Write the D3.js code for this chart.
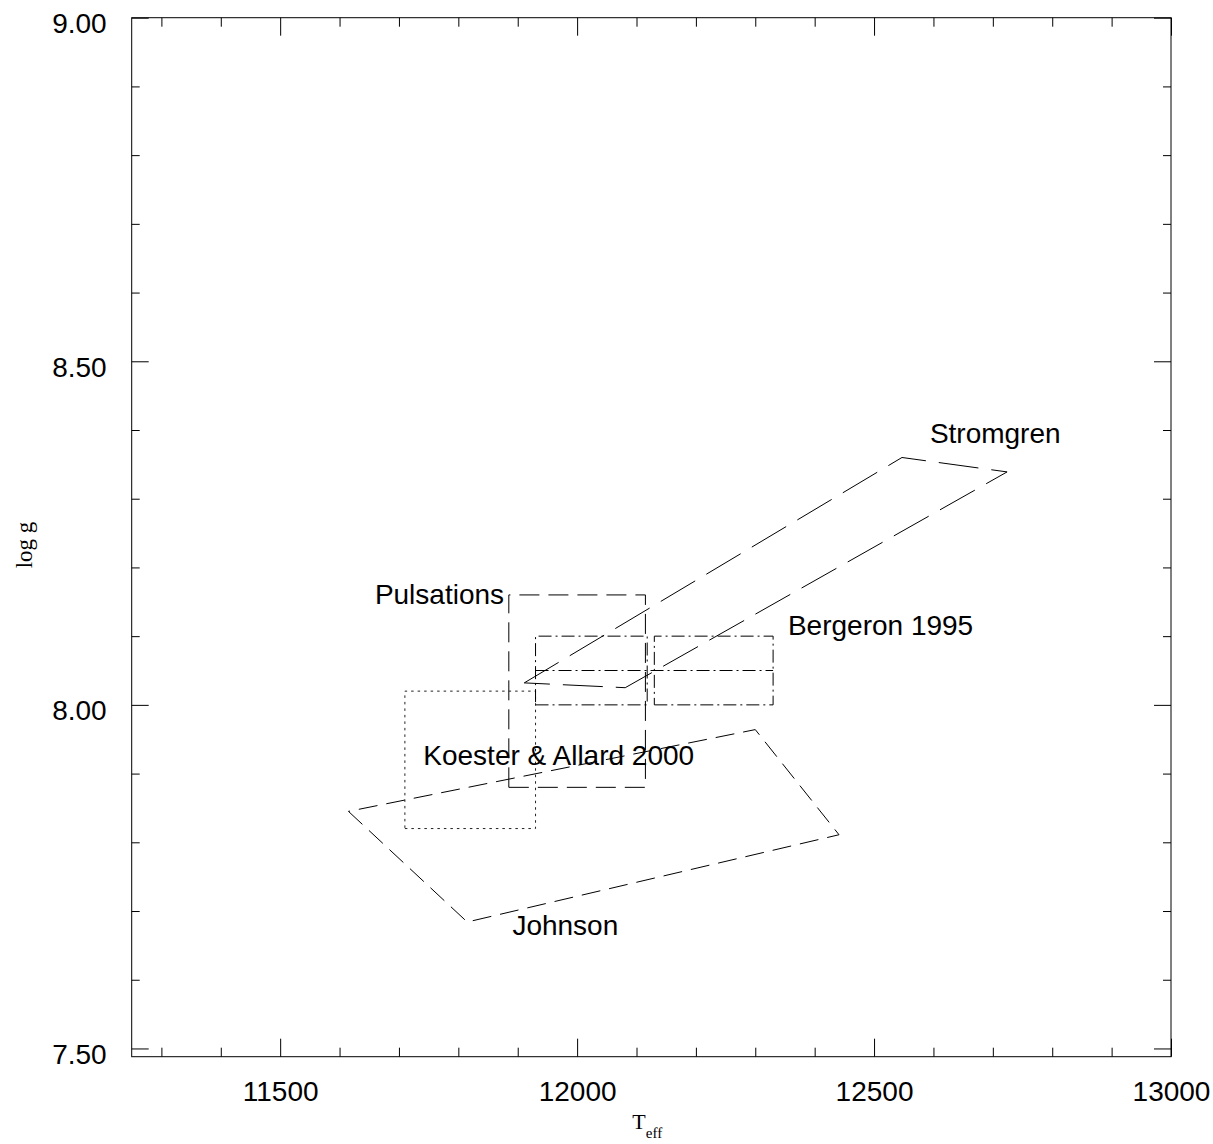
<!DOCTYPE html>
<html>
<head>
<meta charset="utf-8">
<script src="https://cdn.jsdelivr.net/npm/d3@7"></script>
<style>
  html, body { margin: 0; padding: 0; background: #fff; }
  svg { display: block; }
</style>
</head>
<body>
<svg id="chart" width="1213" height="1144"></svg>
<script>
// ---------------- data ----------------
const xMajorTicks = [11500, 12000, 12500, 13000];
const xMinorTicks = [11300, 11400, 11600, 11700, 11800, 11900, 12100, 12200, 12300, 12400, 12600, 12700, 12800, 12900];
const yMajorTicks = [7.5, 8.0, 8.5, 9.0];
const yMinorTicks = [7.6, 7.7, 7.8, 7.9, 8.1, 8.2, 8.3, 8.4, 8.6, 8.7, 8.8, 8.9];

// Stromgren polygon (Teff, log g)
const stromgrenT = [11911, 12547, 12724, 12081];
const stromgrenG = [8.032, 8.360, 8.339, 8.025];

// Johnson polygon
const johnsonT = [11615, 11815, 12441, 12300];
const johnsonG = [7.845, 7.684, 7.811, 7.964];

// Pulsations box
const pulsT = [11885, 12115];
const pulsG = [7.88, 8.16];

// Koester & Allard 2000 box
const koesterT = [11710, 11930];
const koesterG = [7.82, 8.02];

// Bergeron 1995 boxes
const bergT1 = [11930, 12118];
const bergT2 = [12130, 12330];
const bergG = [8.00, 8.05, 8.10];

// labels
const labelText = ["Pulsations", "Koester & Allard 2000", "Johnson", "Stromgren", "Bergeron 1995"];
const labelT = [11877, 11741, 11891, 12594, 12355];
const labelG = [8.147, 7.913, 7.665, 8.381, 8.102];
const labelAnchor = ["end", "start", "start", "start", "start"];

// ---------------- chart ----------------
const L = 131.7, R = 1171, T = 17.7, B = 1056.7;
const x = d3.scaleLinear().domain([11250, 13000]).range([L, R]);
const y = d3.scaleLinear().domain([7.488, 9.0]).range([B, T]);

const svg = d3.select("#chart");
const sans = "'Liberation Sans', Arial, Helvetica, sans-serif";
const serif = "'Liberation Serif', 'Times New Roman', serif";

function styleAxis(g) {
  g.select(".domain").remove();
  g.selectAll(".tick line").attr("stroke", "#000").attr("stroke-width", 1);
  g.selectAll("text").attr("font-family", sans).attr("font-size", 28).attr("fill", "#000");
}

// bottom axis with labels
svg.append("g").attr("transform", `translate(0,${B})`)
  .call(d3.axisBottom(x).tickValues(xMajorTicks).tickSizeInner(-18).tickSizeOuter(0).tickPadding(24).tickFormat(d3.format("d")))
  .call(styleAxis);
svg.append("g").attr("transform", `translate(0,${B})`)
  .call(d3.axisBottom(x).tickValues(xMinorTicks).tickSizeInner(-9).tickSizeOuter(0).tickFormat(""))
  .call(styleAxis);
// top axis (ticks only)
svg.append("g").attr("transform", `translate(0,${T})`)
  .call(d3.axisTop(x).tickValues(xMajorTicks).tickSizeInner(-18).tickSizeOuter(0).tickFormat(""))
  .call(styleAxis);
svg.append("g").attr("transform", `translate(0,${T})`)
  .call(d3.axisTop(x).tickValues(xMinorTicks).tickSizeInner(-9).tickSizeOuter(0).tickFormat(""))
  .call(styleAxis);

// left axis with labels
const gl = svg.append("g").attr("transform", `translate(${L},0)`)
  .call(d3.axisLeft(y).tickValues(yMajorTicks).tickSizeInner(-17).tickSizeOuter(0).tickPadding(25).tickFormat(d3.format(".2f")))
  .call(styleAxis);
gl.selectAll("text").attr("dy", "0.54em");
svg.append("g").attr("transform", `translate(${L},0)`)
  .call(d3.axisLeft(y).tickValues(yMinorTicks).tickSizeInner(-8).tickSizeOuter(0).tickFormat(""))
  .call(styleAxis);
// right axis ticks
svg.append("g").attr("transform", `translate(${R},0)`)
  .call(d3.axisRight(y).tickValues(yMajorTicks).tickSizeInner(-17).tickSizeOuter(0).tickFormat(""))
  .call(styleAxis);
svg.append("g").attr("transform", `translate(${R},0)`)
  .call(d3.axisRight(y).tickValues(yMinorTicks).tickSizeInner(-8).tickSizeOuter(0).tickFormat(""))
  .call(styleAxis);

// frame
svg.append("rect").attr("x", L).attr("y", T).attr("width", R - L).attr("height", B - T)
  .attr("fill", "none").attr("stroke", "#000").attr("stroke-width", 1);

// axis titles
const xt = svg.append("text").attr("x", x(12093)).attr("y", 1129)
  .attr("font-family", serif).attr("font-size", 22).attr("fill", "#000").attr("text-anchor", "start");
xt.append("tspan").text("T");
xt.append("tspan").attr("font-size", 15).attr("dy", 9).text("eff");

svg.append("text")
  .attr("transform", `translate(32,545) rotate(-90)`)
  .attr("text-anchor", "middle")
  .attr("font-family", serif).attr("font-size", 23).attr("fill", "#000")
  .text("log g");

// ---------- regions ----------
const plot = svg.append("g").attr("fill", "none").attr("stroke", "#000").attr("stroke-width", 1);
const poly = d3.line().x(d => x(d[0])).y(d => y(d[1])).curve(d3.curveLinearClosed);
const seg = d3.line().x(d => x(d[0])).y(d => y(d[1]));

function boxPts(ts, gs) {
  return [[ts[0], gs[0]], [ts[1], gs[0]], [ts[1], gs[gs.length - 1]], [ts[0], gs[gs.length - 1]]];
}

// Stromgren
plot.append("path").attr("d", poly(d3.zip(stromgrenT, stromgrenG)))
  .attr("stroke-dasharray", "40,13");

// Johnson
plot.append("path").attr("d", poly(d3.zip(johnsonT, johnsonG)))
  .attr("stroke-dasharray", "19,9");

// Pulsations
plot.append("path").attr("d", poly(boxPts(pulsT, pulsG)))
  .attr("stroke-dasharray", "20,9");

// Koester & Allard
plot.append("path").attr("d", poly(boxPts(koesterT, koesterG)))
  .attr("stroke-dasharray", "2.5,4").attr("stroke", "#222");

// Bergeron
plot.append("path").attr("d", poly(boxPts(bergT1, [bergG[0], bergG[2]])))
  .attr("stroke-dasharray", "13,4,2,4");
plot.append("path").attr("d", poly(boxPts(bergT2, [bergG[0], bergG[2]])))
  .attr("stroke-dasharray", "13,4,2,4");
plot.append("path").attr("d", seg([[bergT1[0], bergG[1]], [bergT2[1], bergG[1]]]))
  .attr("stroke-dasharray", "13,4,2,4");

// labels
svg.append("g").selectAll("text").data(labelText).join("text")
  .attr("x", (d, i) => x(labelT[i]))
  .attr("y", (d, i) => y(labelG[i]))
  .attr("text-anchor", (d, i) => labelAnchor[i])
  .attr("font-family", sans).attr("font-size", 28).attr("fill", "#000")
  .text(d => d);
</script>
</body>
</html>
